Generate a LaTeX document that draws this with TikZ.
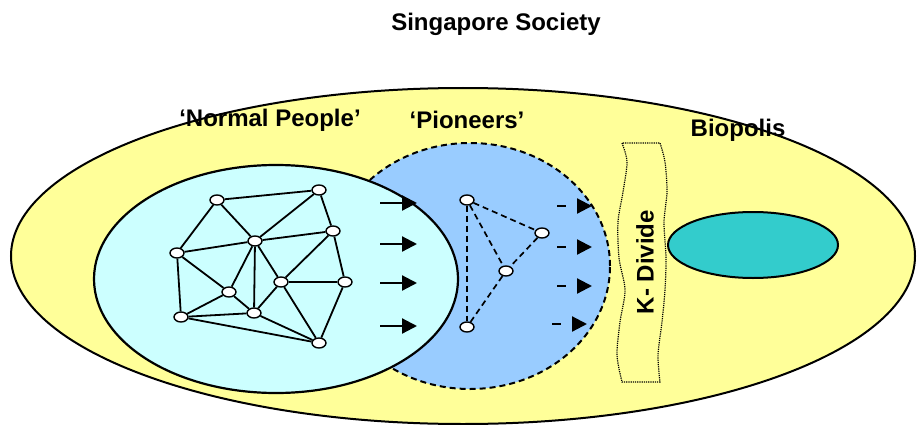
\documentclass[tikz,border=0pt]{standalone}
\usepackage{fontspec}
\setmainfont{Liberation Sans}
\usetikzlibrary{shapes,shapes.geometric,arrows.meta}
\definecolor{society}{HTML}{FFFF99}
\definecolor{normal}{HTML}{CCFFFF}
\definecolor{pioneer}{HTML}{99CCFF}
\definecolor{biopolis}{HTML}{33CCCC}

\begin{document}
\begin{tikzpicture}[x=1pt,y=-1pt]
	\tikzstyle{blob}=[ellipse, draw, inner sep=0pt]
	\tikzstyle{dot}=[ellipse, draw, fill=white, line width=1.4pt, minimum width=14pt, minimum height=10pt, inner sep=0pt]
	\tikzstyle{title}=[font=\bfseries\fontsize{24}{28}\selectfont, inner sep=0pt]
	\tikzstyle{link}=[line width=1.8pt]
	\tikzstyle{weaklink}=[line width=1.7pt, dash pattern=on 6pt off 4pt]
	\tikzstyle{push}=[line width=2.2pt, -{Triangle[length=15pt,width=15pt]}]
	\tikzstyle{lead}=[line width=2.2pt, dash pattern=on 9pt off 30pt, -{Triangle[length=15pt,width=15pt]}]
	\useasboundingbox (0,0) rectangle (917,425);

	% the three groups
	\node[blob, fill=society, line width=2pt, minimum width=904pt, minimum height=336pt] (society) at (463,256) {};
	\node[blob, fill=pioneer, line width=2pt, dash pattern=on 6pt off 4pt, minimum width=280pt, minimum height=246pt] (pioneers) at (470,266) {};
	\node[blob, fill=normal, line width=2.2pt, minimum width=364pt, minimum height=228pt] (normal) at (276,279) {};
	\node[blob, fill=biopolis, line width=2pt, minimum width=170pt, minimum height=66pt] (biopolis) at (753,245) {};

	% labels
	\node[title] (societylabel) at (496,24) {Singapore Society};
	\node[title] (normallabel) at (270,120) {‘Normal People’};
	\node[title] (pioneerlabel) at (467,120) {‘Pioneers’};
	\node[title] (biolabel) at (738,130) {Biopolis};

	% the divide
	\draw[line width=1.2pt, densely dotted]
		plot[smooth] coordinates {(622,143) (627,162) (623,192) (618,222) (619,258) (625,290) (620,322) (617,355) (622,382)}
		-- plot[smooth] coordinates {(660,382) (658,355) (662,322) (665,290) (666,258) (664,222) (667,192) (665,162) (660,143)}
		-- cycle;
	\node[title, rotate=90] (divide) at (645,262) {K- Divide};

	% normal people network
	\foreach \i/\x/\y in {1/217/200, 2/319/190, 3/333/231, 4/255/241, 5/177/253, 6/281/282,
		7/345/282, 8/229/292, 9/254/313, 10/181/317, 11/319/343}
		\node[dot] (n\i) at (\x,\y) {};
	\foreach \a/\b in {1/2, 1/4, 1/5, 2/4, 2/3, 4/5, 4/3, 3/7, 3/6, 4/6, 4/9, 4/8, 5/8, 5/10,
		8/10, 8/9, 10/9, 10/11, 9/6, 9/11, 6/7, 6/11, 7/11}
		\draw[link] (n\a) -- (n\b);

	% pioneers network
	\foreach \i/\x/\y in {1/467/200, 2/542/233, 3/506/271, 4/467/327}
		\node[dot] (p\i) at (\x,\y) {};
	\foreach \a/\b in {1/2, 1/3, 1/4, 2/3, 3/4}
		\draw[weaklink] (p\a) -- (p\b);

	% movement
	\foreach \y in {203, 244, 283, 326}
		\draw[push] (380,\y) -- (417,\y);
	\foreach \x/\y in {557/206, 557/247, 557/286, 552/324}
		\draw[lead] (\x,\y) -- ({\x+35},\y);
\end{tikzpicture}
\end{document}
